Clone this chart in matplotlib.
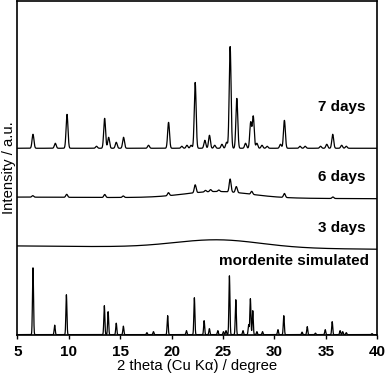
import numpy as np
import matplotlib
matplotlib.use('Agg')
import matplotlib.pyplot as plt

plt.rcParams['font.family'] = ['Liberation Sans', 'DejaVu Sans']

# --- data ---
# mordenite simulated: peak positions (deg) and heights (a.u.)
sim_pos = [6.52, 8.63, 9.77, 13.46, 13.83, 14.62, 15.31, 17.6, 18.24, 19.62,
           21.45, 22.22, 23.17, 23.68, 24.5, 25.05, 25.3, 25.63, 26.25, 26.95,
           27.5, 27.67, 27.9, 28.3, 28.85, 30.35, 30.92, 32.7, 33.2, 34.0,
           34.95, 35.63, 36.4, 36.65, 37.0, 39.5]
sim_int = [67, 9.5, 40, 29, 23, 11.5, 8.5, 2, 3, 19,
           4, 37, 14, 6, 4, 3, 4, 59, 35, 4,
           10, 36, 24, 3, 3, 5, 19, 2.5, 8, 1.5,
           5, 13, 4, 3, 2, 1]

# 7 days
d7_pos = [6.52, 8.69, 9.83, 12.7, 13.49, 13.88, 14.62, 15.33, 17.76, 19.71,
          21.0, 21.5, 21.9, 22.3, 23.24, 23.69, 24.2, 24.9, 25.35, 25.70,
          26.35, 27.2, 27.7, 27.95, 28.3, 28.8, 29.3, 30.6, 30.98, 32.5,
          33.0, 34.5, 35.1, 35.68, 36.55, 37.0]
d7_int = [14, 5, 34, 2, 30, 11, 6, 11, 3, 26,
          2, 3, 3, 66, 8, 13, 3, 4, 6, 102,
          50, 5, 26, 32, 5, 3, 2, 4, 28, 2,
          2, 2, 4, 14, 3, 2]

# 6 days
d6_pos = [6.5, 9.8, 13.5, 15.3, 19.7, 22.3, 23.3, 23.8, 24.6, 25.7, 26.3,
          27.8, 30.98, 35.7]
d6_int = [1.5, 3, 3, 1.5, 3, 8, 1.5, 2, 1.5, 13, 6, 3, 4, 1.5]
d6_hump = [24.5, 6.5, 3.2]   # centre, height, sigma

# 3 days: only an amorphous hump
d3_hump = [24.5, 8.0, 4.2]

labels = ['7 days', '6 days', '3 days', 'mordenite simulated']

# vertical offsets of the stacked patterns
off_sim, off_3, off_6, off_7 = 0, 89, 138, 187


def peaks(x, pos, hgt, sigma):
    y = np.zeros_like(x)
    for p, h in zip(pos, hgt):
        y += h * np.exp(-0.5 * ((x - p) / sigma) ** 2)
    return y


x = np.linspace(5, 40, 3501)
y_sim = off_sim + peaks(x, sim_pos, sim_int, 0.05)
y_7 = off_7 + peaks(x, d7_pos, d7_int, 0.09)
y_6 = (off_6 - 1.6 * (x - 5) / 35
       + peaks(x, [d6_hump[0]], [d6_hump[1]], d6_hump[2])
       + peaks(x, d6_pos, d6_int, 0.09))
y_3 = (off_3 - 3.3 * (x - 5) / 35
       + peaks(x, [d3_hump[0]], [d3_hump[1]], d3_hump[2]))

fig = plt.figure(figsize=(3.86, 3.83), dpi=100)
ax = fig.add_axes([0.045, 0.125, 0.932, 0.873])

for y in (y_7, y_6, y_3, y_sim):
    ax.plot(x, y, color='black', lw=0.9)

ax.text(38.9, 228, labels[0], ha='right', va='center', fontsize=11, fontweight='bold')
ax.text(38.9, 158, labels[1], ha='right', va='center', fontsize=11, fontweight='bold')
ax.text(38.9, 107, labels[2], ha='right', va='center', fontsize=11, fontweight='bold')
ax.text(39.2, 74, labels[3], ha='right', va='center', fontsize=11, fontweight='bold')

ax.set_xlim(5, 40)
ax.set_ylim(-0.5, 335)
ax.set_xticks(np.arange(5, 41, 5))
ax.set_yticks([])
ax.tick_params(axis='x', direction='out', length=3, width=1, pad=4, labelsize=11)
for lab in ax.get_xticklabels():
    lab.set_fontweight('bold')
for s in ax.spines.values():
    s.set_linewidth(1.2)

ax.set_xlabel('2 theta (Cu K\u03b1) / degree', fontsize=10.7, labelpad=0)
ax.set_ylabel('Intensity / a.u.', fontsize=10.7, labelpad=1)

fig.savefig('out.png', dpi=100)
